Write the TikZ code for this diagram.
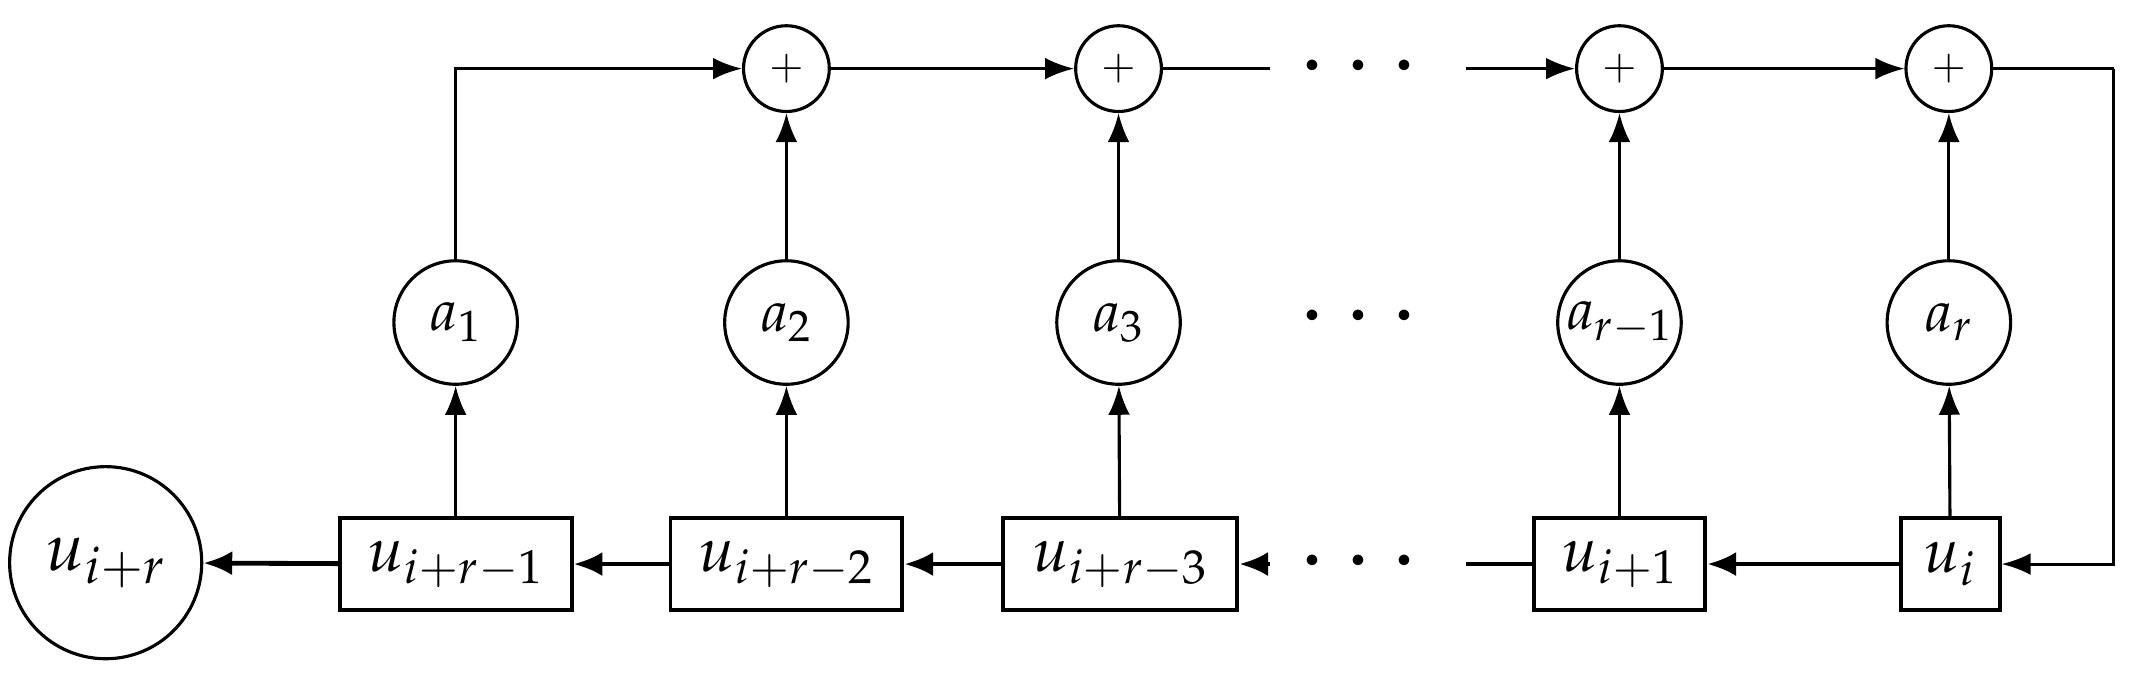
\documentclass[tikz,border=0pt]{standalone}
\usepackage{mathpazo}
\usetikzlibrary{arrows.meta}
\tikzset{
  reg/.style={draw, line width=1.6pt, minimum height=1.34cm, inner sep=3pt, font=\fontsize{26}{30}\selectfont},
  coef/.style={draw, circle, line width=1.3pt, minimum size=1.8cm, inner sep=0pt, font=\fontsize{24}{28}\selectfont},
  adder/.style={draw, circle, line width=1.3pt, minimum size=1.25cm, inner sep=0pt, font=\LARGE},
  thin/.style={line width=1.3pt, -{Latex[length=12pt,width=9pt]}},
  thick/.style={line width=2pt, -{Latex[length=12pt,width=10pt]}},
  dots/.style={font=\fontsize{40}{44}\selectfont}
}
\begin{document}
\begin{tikzpicture}[x=0.02cm, y=-0.02cm]
    \useasboundingbox (0,0) rectangle (1560,493) ;
    \node [draw, circle, line width=1.3pt, minimum size=2.8cm, inner sep=0pt, font=\fontsize{28}{32}\selectfont] (out) at (77,410) {$u_{i+r}$} ;
    \node [reg, minimum width=3.38cm] (u1) at (332,411) {$u_{i+r-1}$} ;
    \node [reg, minimum width=3.38cm] (u2) at (573,411) {$u_{i+r-2}$} ;
    \node [reg, minimum width=3.42cm] (u3) at (816,411) {$u_{i+r-3}$} ;
    \node [reg, minimum width=2.5cm] (un) at (1180,411) {$u_{i+1}$} ;
    \node [reg, minimum width=1.44cm] (ui) at (1421,411) {$u_i$} ;
    \node [coef] (a1) at (332,235) {$a_1$} ;
    \node [coef] (a2) at (573,235) {$a_2$} ;
    \node [coef] (a3) at (815,235) {$a_3$} ;
    \node [coef] (an) at (1180,235) {$a_{r-1}$} ;
    \node [coef] (ar) at (1420,235) {$a_r$} ;
    \node [adder] (p2) at (573,50) {$+$} ;
    \node [adder] (p3) at (815,50) {$+$} ;
    \node [adder] (pn) at (1180,50) {$+$} ;
    \node [adder] (pr) at (1420,50) {$+$} ;
    \node [dots] (d1) at (990,50) {$\cdots$} ;
    \node [dots] (d2) at (990,232) {$\cdots$} ;
    \node [dots] (d3) at (990,410) {$\cdots$} ;
    \coordinate (t1) at (925,50) ;
    \coordinate (t2) at (1068,50) ;
    \coordinate (b1) at (1068,411) ;
    \coordinate (b2) at (925,411) ;
    \coordinate (rc) at (1540,50) ;
    % vertical taps
    \foreach \u/\a in {u1/a1, u2/a2, u3/a3, un/an, ui/ar}
        \draw [thin] (\u) -- (\a) ;
    \foreach \a/\p in {a2/p2, a3/p3, an/pn, ar/pr}
        \draw [thin] (\a) -- (\p) ;
    \draw [thin] (a1) |- (p2) ;
    % adder chain
    \draw [thin] (p2) -- (p3) ;
    \draw [line width=1.3pt] (p3) -- (t1) ;
    \draw [thin] (t2) -- (pn) ;
    \draw [thin] (pn) -- (pr) ;
    \draw [line width=1.3pt] (pr) -- (rc) ;
    \draw [thin] (rc) |- (ui) ;
    % shift register
    \draw [thick] (ui) -- (un) ;
    \draw [line width=2pt] (un) -- (b1) ;
    \draw [thick] (b2) -- (u3) ;
    \draw [thick] (u3) -- (u2) ;
    \draw [thick] (u2) -- (u1) ;
    \draw [thick] (u1) -- (out) ;
\end{tikzpicture}
\end{document}
